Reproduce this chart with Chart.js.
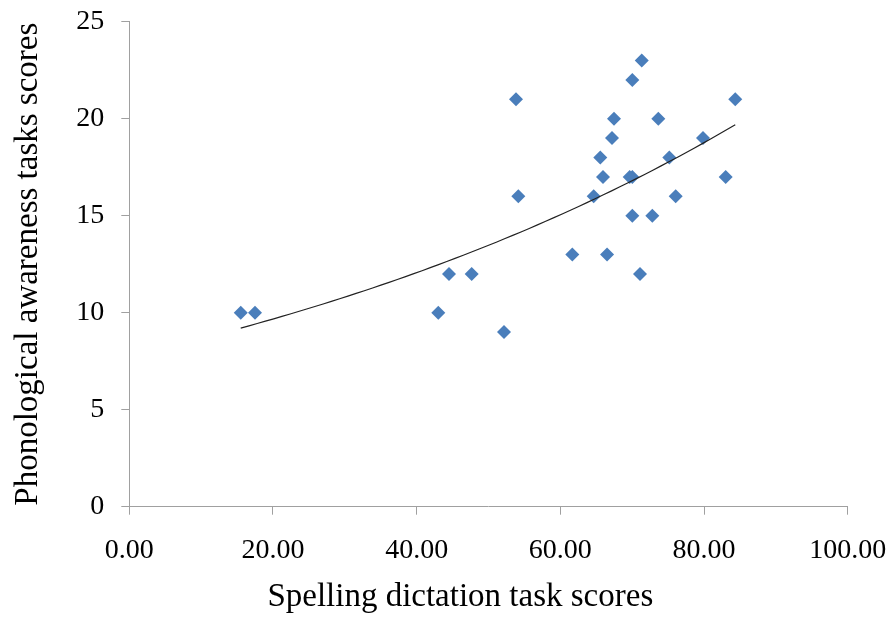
<!DOCTYPE html>
<html>
<head>
<meta charset="utf-8">
<script src="https://cdn.jsdelivr.net/npm/chart.js@4/dist/chart.umd.min.js"></script>
<style>
  html, body { margin: 0; padding: 0; background: #fff; }
  #wrap { width: 892px; height: 617px; }
</style>
</head>
<body>
<div id="wrap"><canvas id="c" width="892" height="617"></canvas></div>
<script>
// Spelling dictation task scores (x) and phonological awareness task scores (y)
const spellingScores = [15.51, 17.50, 43.01, 44.50, 47.66, 52.16, 53.83, 54.15, 61.67, 64.64,
  65.56, 65.94, 66.50, 67.19, 67.47, 69.65, 70.02, 70.02, 70.02, 71.09,
  71.33, 72.80, 73.64, 75.17, 76.06, 79.86, 83.02, 84.35];
const phonoScores = [10, 10, 10, 12, 12, 9, 21, 16, 13, 16,
  18, 17, 13, 19, 20, 17, 17, 22, 15, 12,
  23, 15, 20, 18, 16, 19, 17, 21];
const xTickValues = [0, 20, 40, 60, 80, 100];
const yTickValues = [0, 5, 10, 15, 20, 25];
const xTitle = 'Spelling dictation task scores';
const yTitle = 'Phonological awareness tasks scores';

const points = spellingScores.map((x, i) => ({ x: x, y: phonoScores[i] }));

// Exponential trendline (least squares on ln y), as in a spreadsheet trendline
const n = points.length;
const mx = spellingScores.reduce((s, v) => s + v, 0) / n;
const lny = phonoScores.map(v => Math.log(v));
const my = lny.reduce((s, v) => s + v, 0) / n;
let sxy = 0, sxx = 0;
for (let i = 0; i < n; i++) { sxy += (spellingScores[i] - mx) * (lny[i] - my); sxx += (spellingScores[i] - mx) ** 2; }
const b = sxy / sxx;
const a = Math.exp(my - b * mx);
const xMin = Math.min(...spellingScores), xMax = Math.max(...spellingScores);
const trend = [];
for (let k = 0; k <= 60; k++) {
  const x = xMin + (xMax - xMin) * k / 60;
  trend.push({ x: x, y: a * Math.exp(b * x) });
}

const FONT = '"Liberation Serif", "Times New Roman", serif';

function zeroPad(scale) {
  scale.paddingTop = 0; scale.paddingBottom = 0;
  scale.paddingLeft = 0; scale.paddingRight = 0;
}

const xTitlePlugin = {
  id: 'xTitlePlugin',
  afterDraw(chart) {
    const ctx = chart.ctx;
    ctx.save();
    ctx.font = '33px ' + FONT;
    ctx.fillStyle = '#000';
    ctx.textAlign = 'center';
    ctx.textBaseline = 'alphabetic';
    ctx.fillText(xTitle, chart.chartArea.left + 331, chart.height - 11);
    ctx.restore();
  }
};

new Chart(document.getElementById('c'), {
  type: 'scatter',
  data: {
    datasets: [
      {
        label: 'Scores',
        data: points,
        pointStyle: 'rectRot',
        pointRadius: 7,
        pointHoverRadius: 7,
        backgroundColor: '#4a7ebb',
        borderColor: '#4a7ebb',
        borderWidth: 0,
        order: 2
      },
      {
        label: 'Trend',
        type: 'line',
        data: trend,
        showLine: true,
        pointRadius: 0,
        borderColor: '#222',
        borderWidth: 1.2,
        fill: false,
        tension: 0,
        order: 1
      }
    ]
  },
  options: {
    responsive: false,
    animation: false,
    devicePixelRatio: 1,
    layout: { padding: { left: 0, top: 21.7, right: 44.3, bottom: 0 } },
    plugins: { legend: { display: false }, tooltip: { enabled: false } },
    scales: {
      x: {
        type: 'linear',
        min: 0, max: 100,
        afterBuildTicks(scale) { scale.ticks = xTickValues.map(v => ({ value: v })); },
        afterFit(scale) { scale.height = 110.3; zeroPad(scale); },
        ticks: {
          callback: v => Number(v).toFixed(2),
          font: { family: FONT, size: 28 },
          color: '#000',
          padding: 19,
          maxRotation: 0
        },
        grid: { drawOnChartArea: false, drawTicks: true, tickLength: 8, color: '#a0a0a0', lineWidth: 1 },
        border: { display: true, color: '#a0a0a0', width: 1 },
        title: { display: false }
      },
      y: {
        type: 'linear',
        min: 0, max: 25,
        afterBuildTicks(scale) { scale.ticks = yTickValues.map(v => ({ value: v })); },
        afterFit(scale) { scale.width = 129.3; zeroPad(scale); },
        ticks: {
          font: { family: FONT, size: 28 },
          color: '#000',
          padding: 17
        },
        grid: { drawOnChartArea: false, drawTicks: true, tickLength: 8, color: '#a0a0a0', lineWidth: 1 },
        border: { display: true, color: '#a0a0a0', width: 1 },
        title: {
          display: true,
          text: yTitle,
          font: { family: FONT, size: 33 },
          color: '#000',
          padding: { top: 9, bottom: 0 }
        }
      }
    }
  },
  plugins: [xTitlePlugin]
});
</script>
</body>
</html>
